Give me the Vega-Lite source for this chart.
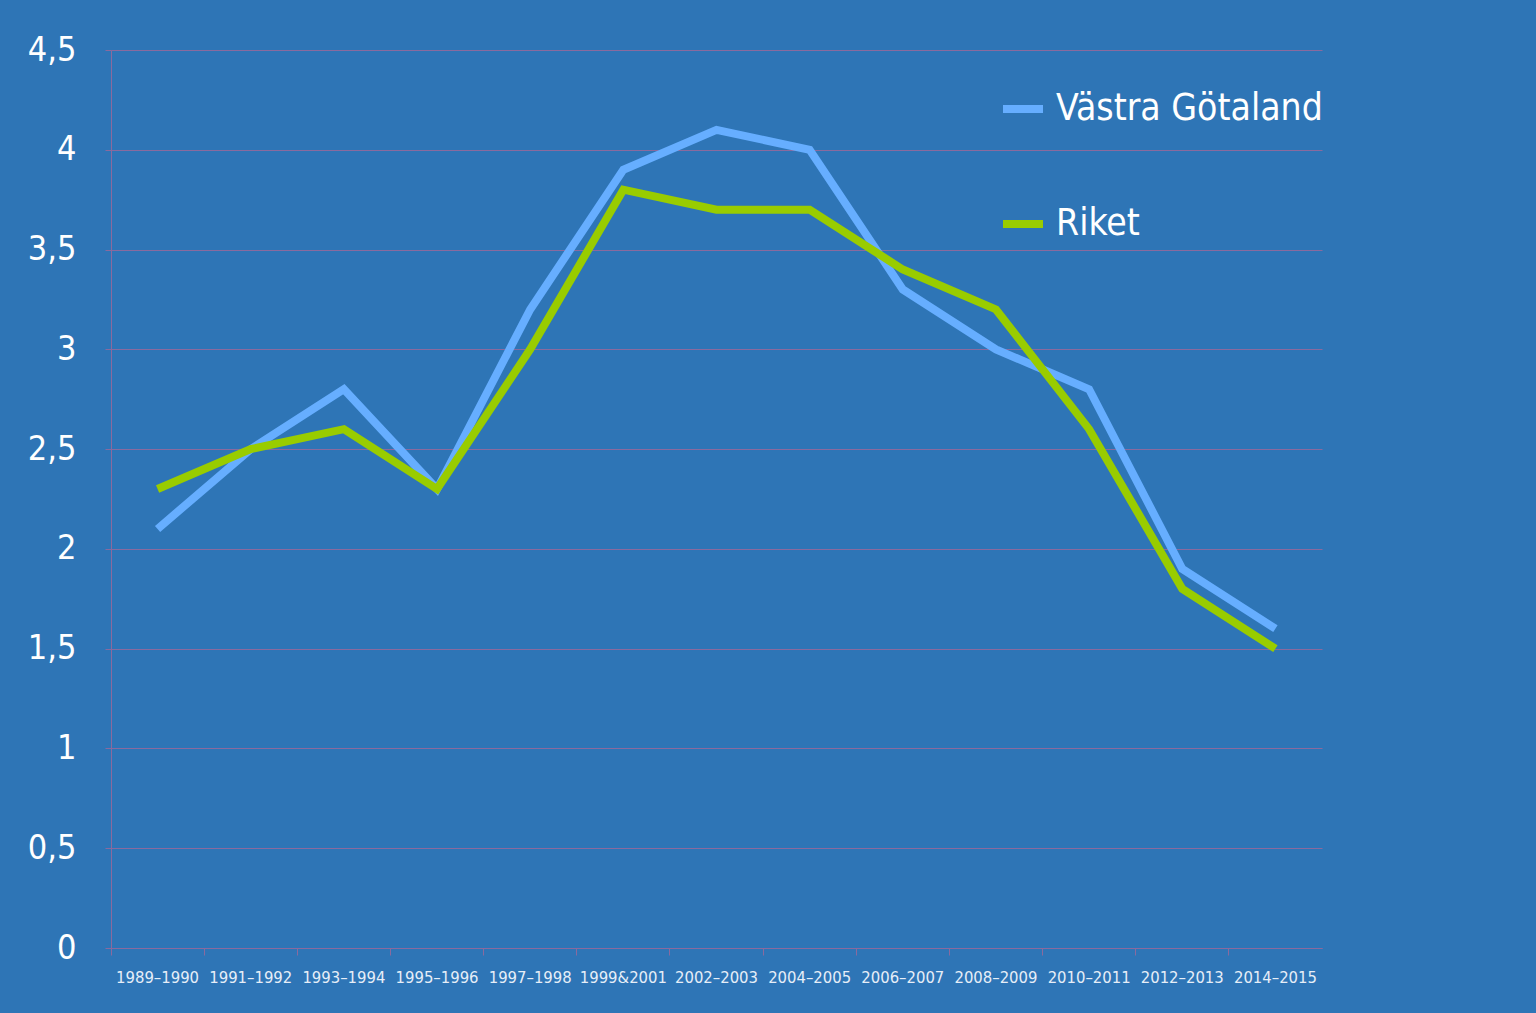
{
  "$schema": "https://vega.github.io/schema/vega-lite/v6.json",
  "autosize": {"type": "none"},
  "padding": {"left": 111, "top": 50, "right": 214, "bottom": 65},
  "width": 1211,
  "height": 898,
  "background": "#2E75B6",
  "config": {
    "view": {"stroke": null},
    "font": "DejaVu Sans Condensed, Liberation Sans Narrow, sans-serif"
  },
  "data": {
    "values": [
      {"period": "1989–1990", "series": "Västra Götaland", "value": 2.1},
      {"period": "1991–1992", "series": "Västra Götaland", "value": 2.5},
      {"period": "1993–1994", "series": "Västra Götaland", "value": 2.8},
      {"period": "1995–1996", "series": "Västra Götaland", "value": 2.3},
      {"period": "1997–1998", "series": "Västra Götaland", "value": 3.2},
      {"period": "1999&2001", "series": "Västra Götaland", "value": 3.9},
      {"period": "2002–2003", "series": "Västra Götaland", "value": 4.1},
      {"period": "2004–2005", "series": "Västra Götaland", "value": 4.0},
      {"period": "2006–2007", "series": "Västra Götaland", "value": 3.3},
      {"period": "2008–2009", "series": "Västra Götaland", "value": 3.0},
      {"period": "2010–2011", "series": "Västra Götaland", "value": 2.8},
      {"period": "2012–2013", "series": "Västra Götaland", "value": 1.9},
      {"period": "2014–2015", "series": "Västra Götaland", "value": 1.6},
      {"period": "1989–1990", "series": "Riket", "value": 2.3},
      {"period": "1991–1992", "series": "Riket", "value": 2.5},
      {"period": "1993–1994", "series": "Riket", "value": 2.6},
      {"period": "1995–1996", "series": "Riket", "value": 2.3},
      {"period": "1997–1998", "series": "Riket", "value": 3.0},
      {"period": "1999&2001", "series": "Riket", "value": 3.8},
      {"period": "2002–2003", "series": "Riket", "value": 3.7},
      {"period": "2004–2005", "series": "Riket", "value": 3.7},
      {"period": "2006–2007", "series": "Riket", "value": 3.4},
      {"period": "2008–2009", "series": "Riket", "value": 3.2},
      {"period": "2010–2011", "series": "Riket", "value": 2.6},
      {"period": "2012–2013", "series": "Riket", "value": 1.8},
      {"period": "2014–2015", "series": "Riket", "value": 1.5}
    ]
  },
  "mark": {"type": "line", "strokeWidth": 8},
  "encoding": {
    "x": {
      "field": "period",
      "type": "nominal",
      "sort": null,
      "scale": {"type": "band", "paddingInner": 0, "paddingOuter": 0},
      "axis": {
        "title": null,
        "labelAngle": 0,
        "bandPosition": 0,
        "ticks": true,
        "tickSize": 7,
        "tickColor": "#8A6A9E",
        "domainColor": "#8A6A9E",
        "labelColor": "#E6EEF8",
        "labelFontSize": 16.5,
        "labelPadding": 14,
        "labelAlign": "center",
        "labelOverlap": false,
        "grid": false
      }
    },
    "y": {
      "field": "value",
      "type": "quantitative",
      "scale": {"domain": [0, 4.5], "nice": false},
      "axis": {
        "title": null,
        "values": [0, 0.5, 1, 1.5, 2, 2.5, 3, 3.5, 4, 4.5],
        "labelExpr": "replace(format(datum.value, '.1~f'), '.', ',')",
        "tickSize": 6,
        "tickColor": "#8A6A9E",
        "domainColor": "#8A6A9E",
        "grid": true,
        "gridColor": "#8A6A9E",
        "gridOpacity": 1,
        "labelColor": "#FFFFFF",
        "labelFontSize": 34,
        "labelPadding": 29
      }
    },
    "color": {
      "field": "series",
      "type": "nominal",
      "sort": ["Västra Götaland", "Riket"],
      "scale": {"domain": ["Västra Götaland", "Riket"], "range": ["#66AEFF", "#99CC00"]},
      "legend": {
        "title": null,
        "orient": "none",
        "legendX": 888,
        "legendY": 35,
        "padding": 0,
        "symbolType": "stroke",
        "symbolSize": 1600,
        "symbolStrokeWidth": 8,
        "labelFontSize": 37,
        "labelColor": "#FFFFFF",
        "labelOffset": 9,
        "rowPadding": 73,
        "labelLimit": 400
      }
    }
  }
}
